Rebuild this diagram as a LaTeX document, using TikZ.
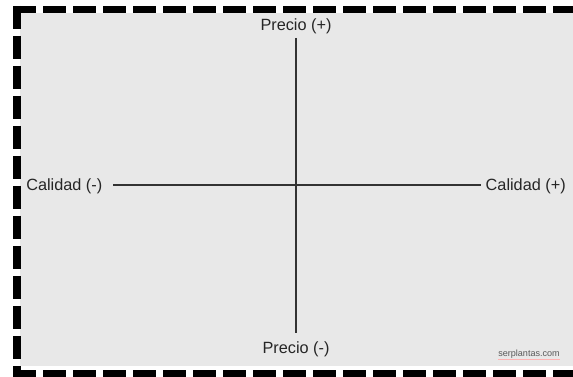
\documentclass[tikz,border=0pt]{standalone}
\usepackage{fontspec}
\setmainfont{Liberation Sans}
\begin{document}
\begin{tikzpicture}[x=0.75pt,y=-0.75pt,
  lbl/.style={font=\fontsize{12.2pt}{14pt}\selectfont, text=black!85, inner sep=0pt},
  axisline/.style={line width=1.6pt, draw=black!80},
  border/.style={line width=5.6pt, draw=black, dash pattern=on 17pt off 5.5pt}]
\useasboundingbox (0,0) rectangle (573,377);
\fill[white] (0,0) rectangle (573,377);
\fill[black!9] (20,13) rectangle (573,366);
\draw[border] (13,9.5) -- (573,9.5);
\draw[border] (17,6) -- (17,377);
\draw[border] (13,373.5) -- (573,373.5);
\node[lbl] (pt) at (296,26) {Precio (+)};
\node[lbl] (pb) at (296,349) {Precio (-)};
\node[lbl, anchor=west] (cl) at (26,186) {Calidad (-)};
\node[lbl, anchor=east] (cr) at (566,186) {Calidad (+)};
\coordinate (vt) at (296,38);
\coordinate (vb) at (296,333);
\coordinate (hl) at (113,185);
\coordinate (hr) at (481,185);
\draw[axisline] (vt) -- (vb);
\draw[axisline] (hl) -- (hr);
\node[inner sep=0pt, font=\fontsize{6.8pt}{8pt}\selectfont, text=black!65] (wm) at (529,354) {serplantas.com};
\draw[red!30, line width=0.8pt] ([yshift=-1pt]wm.south west) -- ([yshift=-1pt]wm.south east);
\end{tikzpicture}
\end{document}
